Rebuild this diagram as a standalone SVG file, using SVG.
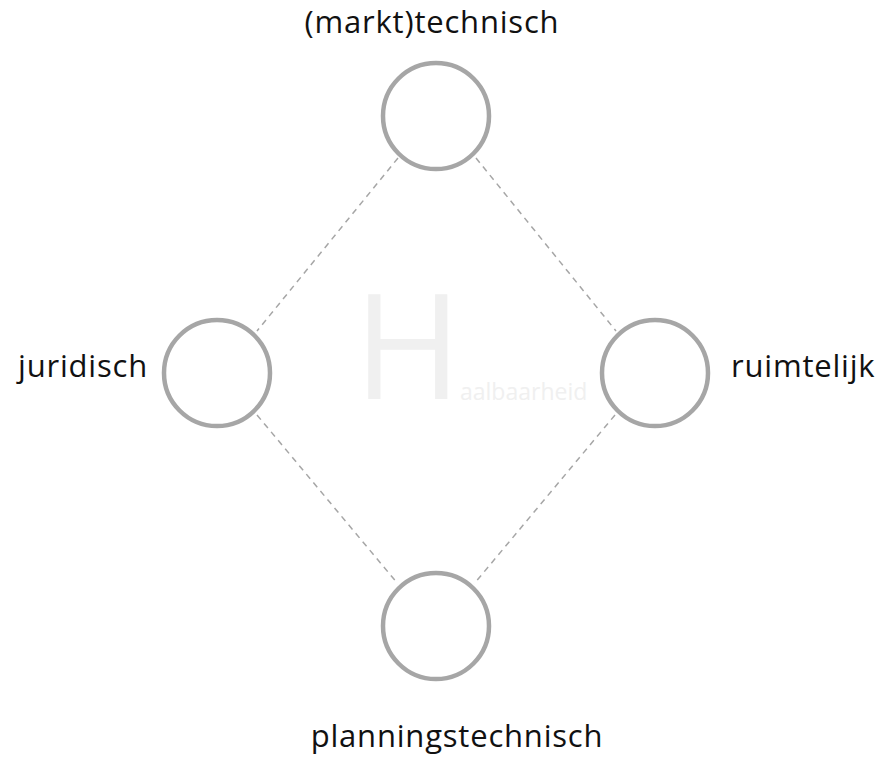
<svg xmlns="http://www.w3.org/2000/svg" width="885" height="758" viewBox="0 0 885 758">
  <style>
    .node { fill: #ffffff; stroke: #a6a6a6; stroke-width: 4.5; }
    .link { stroke: #a6a6a6; stroke-width: 1.5; stroke-dasharray: 6 5; fill: none; }
    .label { font-family: "Open Sans", "Noto Sans", "Liberation Sans", sans-serif; font-size: 31px; letter-spacing: 0.8px; fill: #111111; }
    .mark { font-family: "Open Sans", "Noto Sans", "Liberation Sans", sans-serif; fill: #f0f0f0; }
  </style>
  <rect width="885" height="758" fill="#ffffff"/>

  <!-- watermark title -->
  <g id="watermark">
    <text class="mark" x="354" y="399" font-size="146">H</text>
    <text class="mark" x="460" y="400" font-size="23">aalbaarheid</text>
  </g>

  <!-- dashed connectors between the four aspects -->
  <g id="connectors">
    <line class="link" x1="398" y1="158" x2="257" y2="331"/>
    <line class="link" x1="476" y1="158" x2="616" y2="331"/>
    <line class="link" x1="257" y1="415" x2="398" y2="584"/>
    <line class="link" x1="615" y1="415" x2="474" y2="584"/>
  </g>

  <g id="node-markttechnisch">
    <circle class="node" cx="436" cy="116" r="53"/>
    <text class="label" x="432" y="33" text-anchor="middle">(markt)technisch</text>
  </g>
  <g id="node-juridisch">
    <circle class="node" cx="217" cy="373" r="53"/>
    <text class="label" x="148" y="377" text-anchor="end">juridisch</text>
  </g>
  <g id="node-ruimtelijk">
    <circle class="node" cx="655" cy="373" r="53"/>
    <text class="label" x="731" y="377">ruimtelijk</text>
  </g>
  <g id="node-planningstechnisch">
    <circle class="node" cx="436" cy="626" r="53"/>
    <text class="label" x="457" y="747" text-anchor="middle">planningstechnisch</text>
  </g>
</svg>
